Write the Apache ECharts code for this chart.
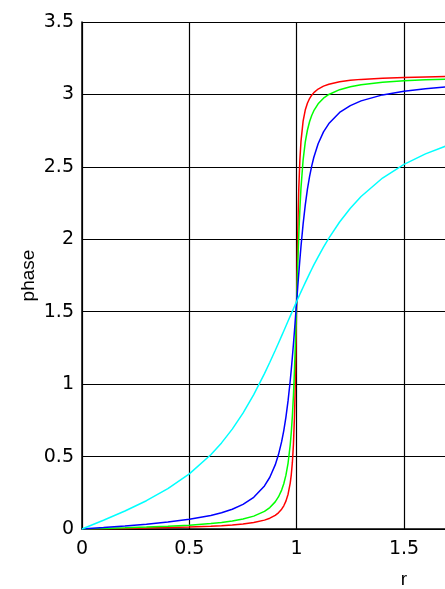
<!DOCTYPE html>
<html>
<head>
<meta charset="utf-8">
<script src="https://cdn.jsdelivr.net/npm/echarts@6/dist/echarts.min.js"></script>
<style>
html,body{margin:0;padding:0;background:#fff;}
#chart{width:445px;height:589px;}
</style>
</head>
<body>
<div id="chart"></div>
<script>
const rValues = [0, 0.1, 0.2, 0.3, 0.4, 0.5, 0.6, 0.65, 0.7, 0.75, 0.8, 0.85, 0.875, 0.9, 0.915, 0.93, 0.94, 0.95, 0.96, 0.97, 0.975, 0.98, 0.985, 0.99, 0.9925, 0.995, 1.0, 1.005, 1.0075, 1.01, 1.015, 1.02, 1.03, 1.04, 1.05, 1.06, 1.07, 1.08, 1.1, 1.125, 1.15, 1.2, 1.25, 1.3, 1.4, 1.5, 1.6, 1.7, 1.8];
const phaseRed = [0, 0.0020, 0.0042, 0.0066, 0.0095, 0.0133, 0.0187, 0.0225, 0.0274, 0.0343, 0.0444, 0.0612, 0.0745, 0.0945, 0.1119, 0.1368, 0.1601, 0.1925, 0.2402, 0.3172, 0.3760, 0.4596, 0.5845, 0.7829, 0.9263, 1.1060, 1.5708, 2.0335, 2.2117, 2.3537, 2.5500, 2.6738, 2.8154, 2.8920, 2.9395, 2.9717, 2.9950, 3.0125, 3.0372, 3.0571, 3.0704, 3.0871, 3.0972, 3.1039, 3.1124, 3.1176, 3.1211, 3.1236, 3.1255];
const phaseGreen = [0, 0.0040, 0.0083, 0.0132, 0.0190, 0.0267, 0.0375, 0.0450, 0.0548, 0.0685, 0.0887, 0.1219, 0.1482, 0.1873, 0.2212, 0.2687, 0.3124, 0.3718, 0.4555, 0.5810, 0.6685, 0.7803, 0.9237, 1.1049, 1.2111, 1.3255, 1.5708, 1.8153, 1.9280, 2.0327, 2.2109, 2.3513, 2.5470, 2.6702, 2.7527, 2.8110, 2.8543, 2.8875, 2.9351, 2.9738, 2.9999, 3.0329, 3.0529, 3.0664, 3.0834, 3.0936, 3.1006, 3.1056, 3.1095];
const phaseBlue = [0, 0.0101, 0.0208, 0.0330, 0.0476, 0.0666, 0.0935, 0.1121, 0.1364, 0.1698, 0.2187, 0.2973, 0.3573, 0.4424, 0.5120, 0.6029, 0.6795, 0.7725, 0.8861, 1.0235, 1.1020, 1.1874, 1.2775, 1.3725, 1.4213, 1.4709, 1.5708, 1.6702, 1.7191, 1.7673, 1.8601, 1.9481, 2.1046, 2.2361, 2.3441, 2.4326, 2.5055, 2.5661, 2.6593, 2.7411, 2.7990, 2.8754, 2.9229, 2.9554, 2.9968, 3.0222, 3.0394, 3.0519, 3.0614];
const phaseCyan = [0, 0.0605, 0.1244, 0.1953, 0.2783, 0.3805, 0.5124, 0.5944, 0.6893, 0.7995, 0.9273, 1.0725, 1.1508, 1.2322, 1.2824, 1.3332, 1.3673, 1.4014, 1.4356, 1.4696, 1.4866, 1.5036, 1.5205, 1.5373, 1.5457, 1.5541, 1.5708, 1.5874, 1.5957, 1.6040, 1.6204, 1.6367, 1.6690, 1.7008, 1.7321, 1.7633, 1.7930, 1.8228, 1.8789, 1.9460, 2.0078, 2.1191, 2.2143, 2.2954, 2.4228, 2.5176, 2.5899, 2.6466, 2.6924];

const seriesDefs = [
  {name: 'red', color: '#ff0000', values: phaseRed},
  {name: 'green', color: '#00ff00', values: phaseGreen},
  {name: 'blue', color: '#0000ff', values: phaseBlue},
  {name: 'cyan', color: '#00ffff', values: phaseCyan}
];

const nameFont = 'Liberation Sans, Arial, Helvetica, sans-serif';
const tickFont = 'DejaVu Sans, sans-serif';
const chart = echarts.init(document.getElementById('chart'), null, {renderer: 'canvas'});
chart.setOption({
  animation: false,
  backgroundColor: '#ffffff',
  grid: {left: 82, top: 22, height: 507, width: 644, containLabel: false, outerBoundsMode: 'none'},
  xAxis: {
    type: 'value', min: 0, max: 3, interval: 0.5,
    name: 'r', nameLocation: 'middle', nameGap: 41,
    nameTextStyle: {color: '#000', fontFamily: nameFont, fontSize: 19},
    axisLine: {show: true, onZero: false, lineStyle: {color: '#000', width: 1.5}},
    axisTick: {show: true, inside: true, length: 5, lineStyle: {color: '#000'}},
    axisLabel: {color: '#000', fontFamily: tickFont, fontSize: 19, margin: 11},
    splitLine: {show: true, lineStyle: {color: '#000', width: 1.2}}
  },
  yAxis: {
    type: 'value', min: 0, max: 3.5, interval: 0.5,
    name: 'phase', nameLocation: 'middle', nameGap: 44, nameRotate: 90,
    nameMoveOverlap: false,
    nameTextStyle: {color: '#000', fontFamily: nameFont, fontSize: 19},
    axisLine: {show: true, onZero: false, lineStyle: {color: '#000', width: 1.5}},
    axisTick: {show: true, inside: true, length: 5, lineStyle: {color: '#000'}},
    axisLabel: {color: '#000', fontFamily: tickFont, fontSize: 19, margin: 8},
    splitLine: {show: true, lineStyle: {color: '#000', width: 1.2}}
  },
  series: seriesDefs.map(s => ({
    name: s.name, type: 'line', showSymbol: false, symbol: 'none',
    clip: true,
    lineStyle: {color: s.color, width: 1.5},
    itemStyle: {color: s.color},
    data: rValues.map((r, i) => [r, s.values[i]])
  }))
});
</script>
</body>
</html>
